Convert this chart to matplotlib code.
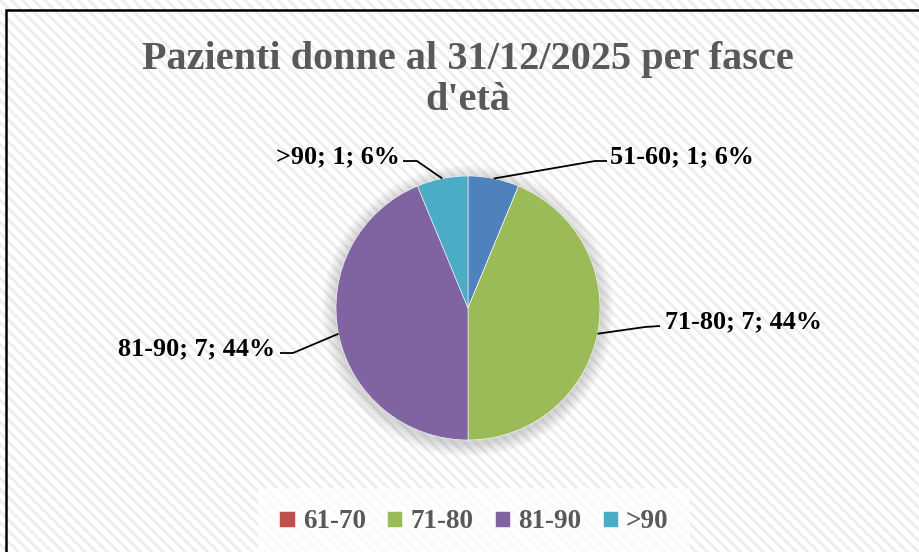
import matplotlib
matplotlib.use("Agg")
import matplotlib.pyplot as plt
from matplotlib.patches import Rectangle, Circle
import numpy as np

# data
labels = ["51-60", "61-70", "71-80", "81-90", ">90"]
values = [1, 0, 7, 7, 1]
colors = ["#4F81BD", "#C0504D", "#9BBB59", "#8064A2", "#4BACC6"]
title = "Pazienti donne al 31/12/2025 per fasce\nd'età"

W, H = 920, 552
plt.rcParams['font.family'] = ['Liberation Serif', 'DejaVu Serif']
plt.rcParams['hatch.linewidth'] = 2.0

fig = plt.figure(figsize=(W / 100, H / 100), dpi=100)
ax = fig.add_axes([0, 0, 1, 1])
ax.set_axis_off()

def Y(y):
    # pixel row (from top) -> data y
    return H - y

# striped background + black frame
ax.add_patch(Rectangle((0, 0), W, H, facecolor="#ffffff", edgecolor="#ededed",
                       lw=0, hatch="\\\\\\", zorder=0))
ax.add_patch(Rectangle((6.5, -20), W + 40, Y(9.5) + 20, fill=False,
                       edgecolor="black", lw=1.8, zorder=1))

cx, cy, r = 468, Y(308), 132

# soft shadow
for k in range(1, 15):
    ax.add_patch(Circle((cx, cy - 3), r + k, facecolor="#808080", alpha=0.022,
                        lw=0, zorder=2))

wedges, _ = ax.pie(values, colors=colors, startangle=90, counterclock=False,
                   center=(cx, cy), radius=r, frame=True,
                   wedgeprops=dict(edgecolor="white", linewidth=0.4, zorder=3))
for w in wedges:
    w.set_zorder(3)

ax.set_xlim(0, W)
ax.set_ylim(0, H)
ax.set_aspect("auto")
ax.set_axis_off()

# data labels with leader lines: (elbow, end, text x, text baseline, ha)
total = sum(values)
label_pos = {
    "51-60": ((595, 161), (607, 161), 610, 163, "left"),
    ">90": ((417, 161), (403, 161), 400, 163, "right"),
    "71-80": ((645, 327), (660, 326), 665, 328, "left"),
    "81-90": ((293, 353), (280, 353), 275, 355, "right"),
}
start = 90.0
for lab, v in zip(labels, values):
    span = 360.0 * v / total
    mid = np.deg2rad(start - span / 2)
    start -= span
    if lab not in label_pos:
        continue
    (ex, ey), (tx, ty), lx, ly, ha = label_pos[lab]
    px, py = cx + r * np.cos(mid), cy + r * np.sin(mid)
    ax.plot([px, ex, tx], [py, Y(ey), Y(ty)], color="black", lw=1.3, zorder=4,
            solid_capstyle="butt")
    pct = round(100 * v / total)
    ax.text(lx, Y(ly), f"{lab}; {v}; {pct}%", ha=ha, va="baseline",
            fontsize=18.8, fontweight="bold", color="black", zorder=5)

ax.text(468, Y(80), title, ha="center", va="center", fontsize=29,
        fontweight="bold", color="#595959", linespacing=1.12, zorder=5)

leg = ax.legend(wedges[1:], labels[1:], ncol=4, loc="center",
                bbox_to_anchor=(474 / W, (H - 522) / H),
                bbox_transform=fig.transFigure, frameon=True, fancybox=False,
                handlelength=0.57, handleheight=0.57, handletextpad=0.3,
                columnspacing=0.78, borderpad=0.8,
                prop=dict(family="Liberation Serif", weight="bold", size=19.5))
leg.get_frame().set_facecolor("white")
leg.get_frame().set_alpha(0.75)
leg.get_frame().set_linewidth(0)
for t in leg.get_texts():
    t.set_color("#595959")

fig.savefig("out.png", dpi=100)
